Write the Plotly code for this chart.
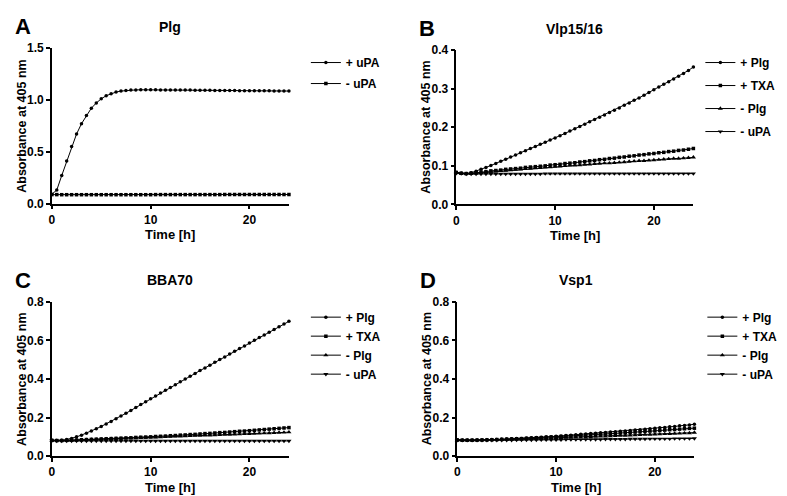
import plotly.graph_objects as go

# ---------------- data ----------------
time_h = [0, 0.5, 1, 1.5, 2, 2.5, 3,
          3.5, 4, 4.5, 5, 5.5, 6, 6.5,
          7, 7.5, 8, 8.5, 9, 9.5, 10,
          10.5, 11, 11.5, 12, 12.5, 13, 13.5,
          14, 14.5, 15, 15.5, 16, 16.5, 17,
          17.5, 18, 18.5, 19, 19.5, 20, 20.5,
          21, 21.5, 22, 22.5, 23, 23.5, 24]

# Panel A: Plg
a_plus_upa = [0.090, 0.130, 0.270, 0.410, 0.550, 0.670, 0.770,
              0.850, 0.920, 0.970, 1.010, 1.040, 1.060, 1.075,
              1.085, 1.090, 1.094, 1.096, 1.097, 1.097, 1.097,
              1.097, 1.096, 1.096, 1.095, 1.095, 1.095, 1.094,
              1.094, 1.093, 1.093, 1.092, 1.092, 1.091, 1.091,
              1.090, 1.090, 1.090, 1.089, 1.089, 1.088, 1.088,
              1.088, 1.087, 1.087, 1.086, 1.086, 1.085, 1.085]
a_minus_upa = [0.086, 0.086, 0.085, 0.085, 0.085, 0.085, 0.085,
               0.085, 0.085, 0.085, 0.085, 0.085, 0.085, 0.085,
               0.085, 0.085, 0.085, 0.085, 0.085, 0.085, 0.085,
               0.086, 0.086, 0.086, 0.086, 0.086, 0.086, 0.086,
               0.086, 0.086, 0.086, 0.086, 0.086, 0.086, 0.086,
               0.087, 0.087, 0.087, 0.087, 0.087, 0.087, 0.087,
               0.087, 0.087, 0.087, 0.087, 0.087, 0.087, 0.087]

# Panel B: Vlp15/16
b_plus_plg = [0.083, 0.081, 0.080, 0.082, 0.086, 0.091, 0.096,
              0.101, 0.106, 0.112, 0.117, 0.123, 0.128, 0.134,
              0.139, 0.145, 0.150, 0.156, 0.161, 0.167, 0.172,
              0.178, 0.184, 0.190, 0.196, 0.202, 0.208, 0.214,
              0.220, 0.226, 0.232, 0.238, 0.244, 0.250, 0.257,
              0.263, 0.270, 0.276, 0.283, 0.290, 0.297, 0.304,
              0.311, 0.318, 0.325, 0.332, 0.339, 0.347, 0.356]
b_plus_txa = [0.083, 0.081, 0.080, 0.081, 0.082, 0.084, 0.085,
              0.087, 0.088, 0.089, 0.091, 0.092, 0.093, 0.094,
              0.096, 0.097, 0.098, 0.099, 0.100, 0.102, 0.103,
              0.104, 0.106, 0.107, 0.108, 0.110, 0.111, 0.113,
              0.114, 0.116, 0.117, 0.119, 0.120, 0.122, 0.123,
              0.125, 0.126, 0.128, 0.129, 0.131, 0.132, 0.134,
              0.135, 0.137, 0.138, 0.140, 0.141, 0.143, 0.145]
b_minus_plg = [0.082, 0.080, 0.079, 0.080, 0.081, 0.082, 0.084,
               0.085, 0.086, 0.087, 0.088, 0.089, 0.090, 0.091,
               0.092, 0.093, 0.094, 0.095, 0.096, 0.097, 0.098,
               0.099, 0.100, 0.101, 0.101, 0.102, 0.103, 0.104,
               0.105, 0.106, 0.107, 0.107, 0.108, 0.109, 0.110,
               0.111, 0.112, 0.113, 0.113, 0.114, 0.115, 0.116,
               0.117, 0.118, 0.119, 0.119, 0.120, 0.121, 0.122]
b_minus_upa = [0.081, 0.080, 0.079, 0.079, 0.079, 0.079, 0.079,
               0.079, 0.079, 0.079, 0.079, 0.079, 0.079, 0.079,
               0.079, 0.079, 0.079, 0.079, 0.080, 0.080, 0.080,
               0.080, 0.080, 0.080, 0.080, 0.080, 0.080, 0.080,
               0.080, 0.080, 0.080, 0.080, 0.080, 0.080, 0.080,
               0.080, 0.080, 0.080, 0.080, 0.080, 0.080, 0.080,
               0.080, 0.080, 0.080, 0.080, 0.080, 0.080, 0.080]

# Panel C: BBA70
c_plus_plg = [0.082, 0.081, 0.082, 0.086, 0.092, 0.100, 0.109,
              0.119, 0.130, 0.142, 0.154, 0.167, 0.180, 0.194,
              0.208, 0.222, 0.237, 0.252, 0.267, 0.282, 0.297,
              0.312, 0.327, 0.341, 0.356, 0.370, 0.385, 0.399,
              0.414, 0.428, 0.443, 0.457, 0.471, 0.486, 0.500,
              0.514, 0.529, 0.543, 0.557, 0.571, 0.586, 0.600,
              0.614, 0.628, 0.642, 0.656, 0.670, 0.684, 0.698]
c_plus_txa = [0.082, 0.081, 0.081, 0.082, 0.083, 0.084, 0.085,
              0.086, 0.087, 0.088, 0.089, 0.090, 0.091, 0.092,
              0.093, 0.094, 0.095, 0.097, 0.098, 0.099, 0.100,
              0.102, 0.103, 0.104, 0.106, 0.107, 0.109, 0.110,
              0.112, 0.113, 0.115, 0.117, 0.118, 0.120, 0.122,
              0.123, 0.125, 0.127, 0.129, 0.130, 0.132, 0.134,
              0.136, 0.138, 0.140, 0.142, 0.144, 0.146, 0.148]
c_minus_plg = [0.081, 0.080, 0.080, 0.081, 0.082, 0.083, 0.084,
               0.085, 0.086, 0.087, 0.088, 0.089, 0.090, 0.091,
               0.092, 0.093, 0.093, 0.094, 0.095, 0.096, 0.097,
               0.098, 0.099, 0.100, 0.101, 0.102, 0.103, 0.104,
               0.105, 0.106, 0.107, 0.108, 0.108, 0.109, 0.110,
               0.111, 0.112, 0.113, 0.114, 0.115, 0.116, 0.117,
               0.118, 0.119, 0.120, 0.121, 0.122, 0.123, 0.124]
c_minus_upa = [0.080, 0.079, 0.079, 0.079, 0.079, 0.079, 0.079,
               0.079, 0.079, 0.079, 0.079, 0.079, 0.079, 0.079,
               0.079, 0.079, 0.079, 0.079, 0.079, 0.079, 0.079,
               0.079, 0.079, 0.079, 0.079, 0.079, 0.079, 0.079,
               0.079, 0.079, 0.079, 0.079, 0.079, 0.079, 0.079,
               0.079, 0.079, 0.079, 0.079, 0.079, 0.079, 0.079,
               0.079, 0.079, 0.079, 0.079, 0.079, 0.079, 0.079]

# Panel D: Vsp1
d_plus_plg = [0.084, 0.083, 0.083, 0.083, 0.084, 0.084, 0.085,
              0.086, 0.087, 0.088, 0.089, 0.090, 0.091, 0.092,
              0.094, 0.095, 0.097, 0.098, 0.100, 0.101, 0.103,
              0.105, 0.107, 0.109, 0.111, 0.113, 0.115, 0.117,
              0.119, 0.121, 0.123, 0.125, 0.127, 0.129, 0.131,
              0.133, 0.135, 0.137, 0.140, 0.142, 0.144, 0.147,
              0.149, 0.152, 0.154, 0.157, 0.159, 0.162, 0.165]
d_plus_txa = [0.084, 0.083, 0.083, 0.083, 0.083, 0.084, 0.084,
              0.085, 0.086, 0.087, 0.088, 0.089, 0.090, 0.091,
              0.092, 0.093, 0.095, 0.096, 0.097, 0.099, 0.100,
              0.102, 0.103, 0.105, 0.106, 0.108, 0.109, 0.111,
              0.112, 0.114, 0.115, 0.117, 0.118, 0.120, 0.121,
              0.123, 0.125, 0.126, 0.128, 0.130, 0.131, 0.133,
              0.135, 0.137, 0.138, 0.140, 0.142, 0.144, 0.145]
d_minus_plg = [0.083, 0.082, 0.082, 0.082, 0.083, 0.083, 0.084,
               0.084, 0.085, 0.086, 0.086, 0.087, 0.088, 0.088,
               0.089, 0.090, 0.091, 0.091, 0.092, 0.093, 0.094,
               0.095, 0.096, 0.096, 0.097, 0.098, 0.099, 0.100,
               0.101, 0.102, 0.103, 0.104, 0.105, 0.106, 0.107,
               0.108, 0.109, 0.110, 0.111, 0.112, 0.113, 0.114,
               0.115, 0.116, 0.117, 0.118, 0.119, 0.120, 0.122]
d_minus_upa = [0.083, 0.082, 0.082, 0.082, 0.082, 0.082, 0.082,
               0.083, 0.083, 0.083, 0.083, 0.083, 0.084, 0.084,
               0.084, 0.084, 0.084, 0.085, 0.085, 0.085, 0.085,
               0.085, 0.086, 0.086, 0.086, 0.086, 0.087, 0.087,
               0.087, 0.087, 0.088, 0.088, 0.088, 0.088, 0.088,
               0.089, 0.089, 0.089, 0.089, 0.090, 0.090, 0.090,
               0.090, 0.090, 0.091, 0.091, 0.091, 0.091, 0.092]

panel_letters = ["A", "B", "C", "D"]
panel_titles = ["Plg", "Vlp15/16", "BBA70", "Vsp1"]
labels_a = ["+ uPA", "- uPA"]
labels_bcd = ["+ Plg", "+ TXA", "- Plg", "- uPA"]
y_ranges = [[0, 1.5], [0, 0.4], [0, 0.8], [0, 0.8]]
y_dticks = [0.5, 0.1, 0.2, 0.2]
x_ticks = [0, 10, 20]
y_title = "Absorbance at 405 nm"
x_title = "Time [h]"

# ---------------- layout geometry (pixels) ----------------
W, H = 787, 496
FONT = "Liberation Sans, Arial, Helvetica, sans-serif"


def px_x(p):
    return p / W


def px_y(p):
    return 1 - p / H


# panel boxes: (left, right, top, bottom) in px
boxes = [(41, 279, 34, 194), (447, 685, 36, 195),
         (41, 279, 295, 454), (448, 686, 295, 454)]
xtitle_offset = [32, 32, 32, 32]

fig = go.Figure()

symbols = ["circle", "square", "triangle-up", "triangle-down"]
sizes = [3.5, 3.5, 4.5, 4.5]

series = [
    (labels_a, [a_plus_upa, a_minus_upa]),
    (labels_bcd, [b_plus_plg, b_plus_txa, b_minus_plg, b_minus_upa]),
    (labels_bcd, [c_plus_plg, c_plus_txa, c_minus_plg, c_minus_upa]),
    (labels_bcd, [d_plus_plg, d_plus_txa, d_minus_plg, d_minus_upa]),
]

for i, (labs, ys) in enumerate(series):
    sfx = "" if i == 0 else str(i + 1)
    for j, (lab, yv) in enumerate(zip(labs, ys)):
        fig.add_trace(go.Scatter(
            x=time_h, y=yv, name=lab, mode="lines+markers",
            xaxis="x" + sfx, yaxis="y" + sfx,
            legend="legend" + sfx, legendgroup=f"g{i}_{j}",
            line=dict(color="black", width=1),
            marker=dict(symbol=symbols[j], size=sizes[j], color="black",
                        line=dict(width=0)),
            cliponaxis=False,
        ))

axis_common = dict(
    showline=True, linecolor="black", linewidth=1.5,
    ticks="outside", ticklen=4, tickwidth=1.5, tickcolor="black",
    showgrid=False, zeroline=False,
    tickfont=dict(family=FONT, size=12, color="black", weight="bold"),
)

layout = dict(
    width=W, height=H, margin=dict(l=0, r=0, t=0, b=0),
    plot_bgcolor="white", paper_bgcolor="white",
    showlegend=True,
)

annotations = []
legend_pos = [(296, 34, 2), (692, 34, 4), (296, 296, 0), (694, 296, 0)]

for i, (l, r, t, b) in enumerate(boxes):
    sfx = "" if i == 0 else str(i + 1)
    layout["xaxis" + sfx] = dict(
        axis_common, domain=[px_x(l), px_x(r)], range=[0, 24],
        tickvals=x_ticks, anchor="y" + sfx,
    )
    layout["yaxis" + sfx] = dict(
        axis_common, domain=[px_y(b), px_y(t)], range=y_ranges[i],
        dtick=y_dticks[i], tick0=0, tickformat=".1f", anchor="x" + sfx,
    )
    lx, ly, gap = legend_pos[i]
    layout["legend" + sfx] = dict(
        x=px_x(lx), y=px_y(ly), xanchor="left", yanchor="top",
        xref="paper", yref="paper",
        font=dict(family=FONT, size=12, color="black", weight="bold"),
        bgcolor="rgba(0,0,0,0)", itemwidth=30, tracegroupgap=gap,
        traceorder="grouped",
    )
    cx = (l + r) / 2
    # panel letter
    annotations.append(dict(
        text=panel_letters[i], x=px_x(l - 29), y=px_y(t - 22),
        xref="paper", yref="paper", showarrow=False,
        xanchor="center", yanchor="middle",
        font=dict(family=FONT, size=22, color="black", weight="bold"),
    ))
    # panel title
    annotations.append(dict(
        text=panel_titles[i], x=px_x(cx), y=px_y(t - 22),
        xref="paper", yref="paper", showarrow=False,
        xanchor="center", yanchor="middle",
        font=dict(family=FONT, size=14, color="black", weight="bold"),
    ))
    # y axis title
    annotations.append(dict(
        text=y_title, x=px_x(l - 30), y=px_y((t + b) / 2),
        xref="paper", yref="paper", showarrow=False, textangle=-90,
        xanchor="center", yanchor="middle",
        font=dict(family=FONT, size=12.5, color="black", weight="bold"),
    ))
    # x axis title
    annotations.append(dict(
        text=x_title, x=px_x(cx), y=px_y(b + xtitle_offset[i]),
        xref="paper", yref="paper", showarrow=False,
        xanchor="center", yanchor="middle",
        font=dict(family=FONT, size=13, color="black", weight="bold"),
    ))

layout["annotations"] = annotations
fig.update_layout(**layout)

fig.write_html("out.html")
